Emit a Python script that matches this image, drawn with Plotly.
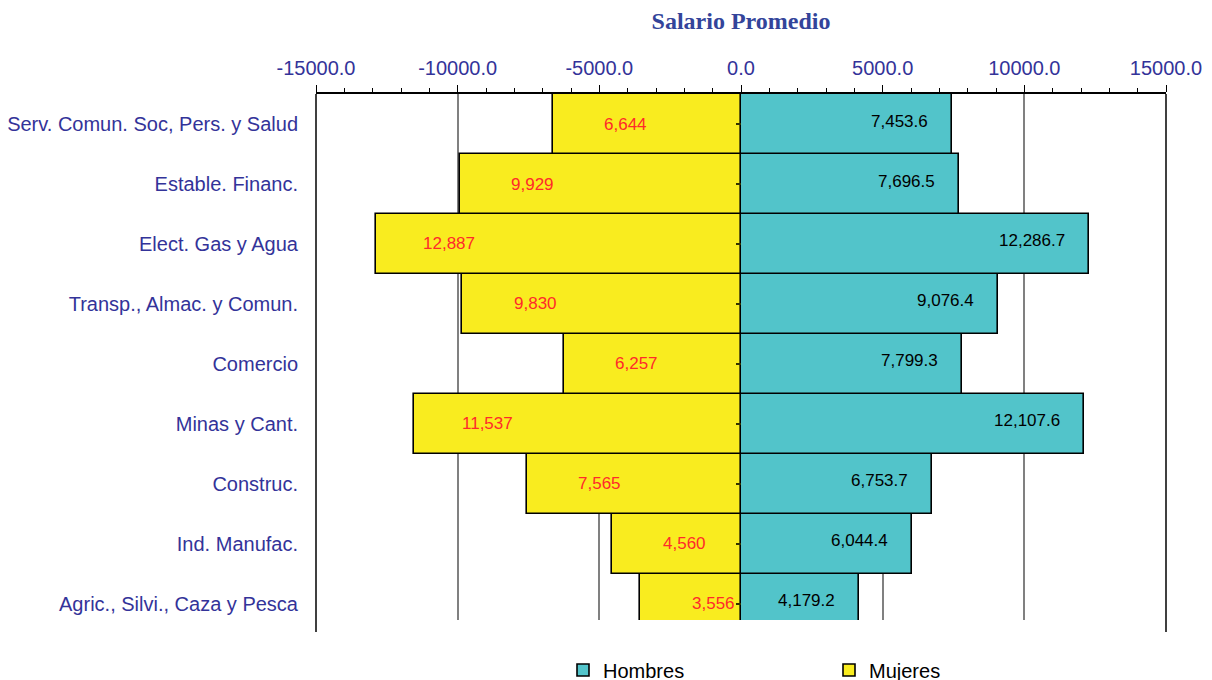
import plotly.graph_objects as go

# Data (bottom to top)
categories = [
    "Agric., Silvi., Caza y Pesca",
    "Ind. Manufac.",
    "Construc.",
    "Minas y Cant.",
    "Comercio",
    "Transp., Almac. y Comun.",
    "Elect. Gas y Agua",
    "Estable. Financ.",
    "Serv. Comun. Soc, Pers. y Salud",
]
hombres = [4179.2, 6044.4, 6753.7, 12107.6, 7799.3, 9076.4, 12286.7, 7696.5, 7453.6]
mujeres = [3556, 4560, 7565, 11537, 6257, 9830, 12887, 9929, 6644]

x_tickvals = [-15000, -10000, -5000, 0, 5000, 10000, 15000]
x_ticktext = ["-15000.0", "-10000.0", "-5000.0", "0.0", "5000.0", "10000.0", "15000.0"]

TEAL = "#52C4CA"
YELLOW = "#F9EC1F"
NAVY = "#333399"
FONT = "Liberation Sans, Arial, sans-serif"

ypos = list(range(len(categories)))

fig = go.Figure()
fig.add_trace(go.Bar(
    name="Hombres", y=ypos, x=hombres, orientation="h",
    marker=dict(color=TEAL, line=dict(color="black", width=1.6)),
    hoverinfo="x+name",
))
fig.add_trace(go.Bar(
    name="Mujeres", y=ypos, x=[-v for v in mujeres], orientation="h",
    marker=dict(color=YELLOW, line=dict(color="black", width=1.6)),
    hoverinfo="x+name",
))
# dummy trace to make the center axis (ticks at x=0) render
fig.add_trace(go.Scatter(x=[None], y=[None], yaxis="y2", showlegend=False, hoverinfo="skip"))

annotations = []
for yv, h in zip(ypos, hombres):
    annotations.append(dict(x=h, y=yv, xref="x", yref="y", text=f"{h:,.1f}",
                            showarrow=False, xanchor="right", xshift=-22, yshift=3,
                            font=dict(family=FONT, size=17, color="black")))
for yv, m in zip(ypos, mujeres):
    annotations.append(dict(x=-m, y=yv, xref="x", yref="y", text=f"{m:,.0f}",
                            showarrow=False, xanchor="center", xshift=73, yshift=0,
                            font=dict(family=FONT, size=17, color="#FF2A2A")))

plot_h = 526  # pixel height of plot area
ext = -12 / plot_h
shapes = [
    dict(type="line", xref="paper", yref="paper", x0=0, x1=0, y0=ext, y1=1,
         line=dict(color="black", width=1.5)),
    dict(type="line", xref="paper", yref="paper", x0=1, x1=1, y0=ext, y1=1,
         line=dict(color="black", width=1.5)),
]

yrange = [-0.267, len(categories) - 0.5]

fig.update_layout(
    width=1212, height=680,
    margin=dict(l=308, r=54, t=86, b=68, autoexpand=False),
    paper_bgcolor="white", plot_bgcolor="white",
    barmode="relative", bargap=0,
    title=dict(text="<b>Salario Promedio</b>", x=0.5, xref="paper", xanchor="center",
               y=1 - 13 / 680, yref="container", yanchor="middle",
               font=dict(family="Liberation Serif, Times New Roman, serif", size=24, color="#33449A")),
    xaxis=dict(
        side="top", range=[-15000, 15000], tickvals=x_tickvals, ticktext=x_ticktext,
        ticks="outside", ticklen=7, tickcolor="black", tickwidth=1,
        minor=dict(dtick=1000, tick0=0, ticks="outside", ticklen=4, tickcolor="black", showgrid=False),
        showline=True, linecolor="black", linewidth=1.5,
        showgrid=True, gridcolor="#808080", gridwidth=1.5,
        zeroline=False, ticklabelstandoff=2,
        tickfont=dict(family=FONT, size=20, color=NAVY), fixedrange=True,
    ),
    yaxis=dict(
        range=yrange, tickvals=ypos, ticktext=categories,
        showgrid=False, zeroline=False, showline=False, ticks="",
        ticklabelstandoff=17,
        tickfont=dict(family=FONT, size=20, color=NAVY), fixedrange=True,
    ),
    yaxis2=dict(
        overlaying="y", anchor="free", position=0.5, range=yrange,
        tickvals=ypos, showticklabels=False, ticks="outside", ticklen=5,
        tickcolor="#333300", tickwidth=1.5, showgrid=False, zeroline=False, showline=False,
        fixedrange=True,
    ),
    legend=dict(
        orientation="h", x=(563 - 8 - 308) / 850, xanchor="left", y=-50 / plot_h, yanchor="middle",
        font=dict(family=FONT, size=20, color="black"),
        entrywidth=221, entrywidthmode="pixels", traceorder="normal",
        bgcolor="rgba(0,0,0,0)", itemwidth=30,
    ),
    annotations=annotations,
    shapes=shapes,
    showlegend=True,
)

fig.write_html("out.html")
